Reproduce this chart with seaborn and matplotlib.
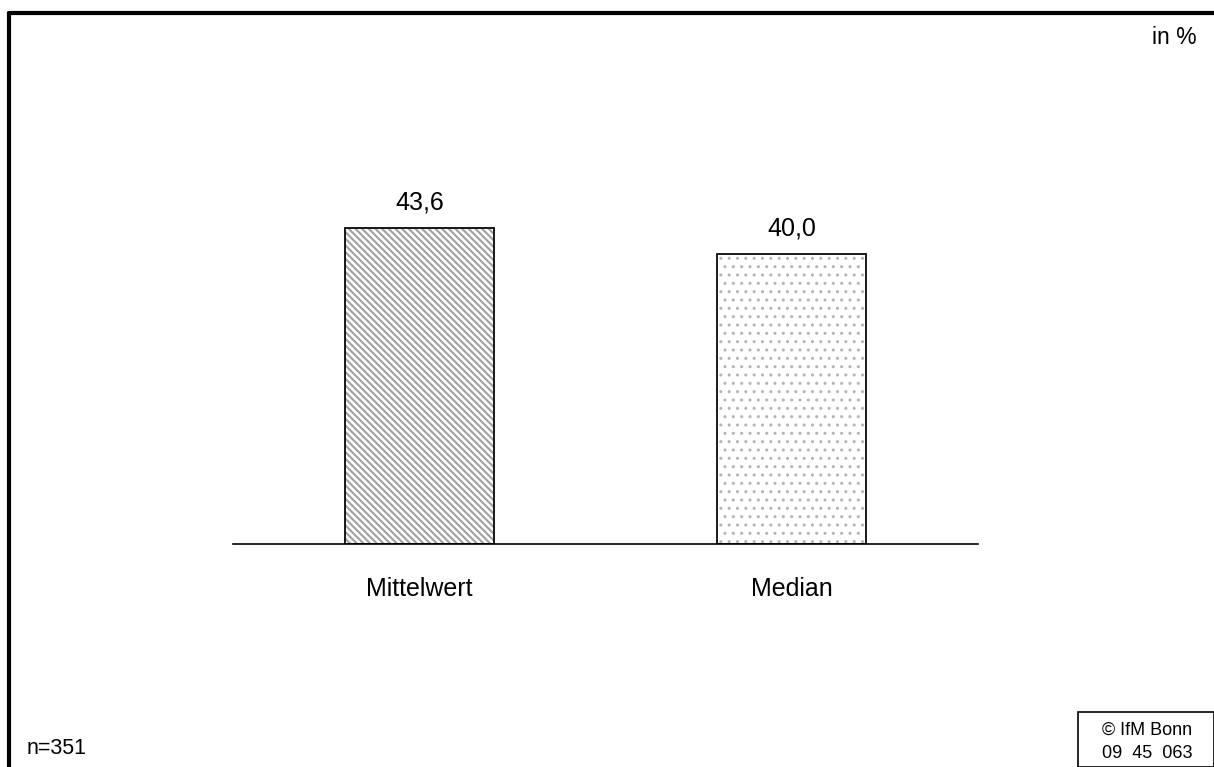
import matplotlib
matplotlib.use("Agg")
import matplotlib.pyplot as plt
import seaborn as sns
import pandas as pd
from matplotlib.patches import Rectangle
from matplotlib.lines import Line2D

categories = ["Mittelwert", "Median"]
values = [43.6, 40.0]
value_labels = ["43,6", "40,0"]

sns.set_theme(style="white")
plt.rcParams['font.family'] = ['Liberation Sans', 'DejaVu Sans']
plt.rcParams['text.color'] = 'black'
plt.rcParams['xtick.color'] = 'black'
plt.rcParams['hatch.linewidth'] = 1.5

fig = plt.figure(figsize=(12.14, 7.67), dpi=100)
ax = fig.add_axes([233/1214, 1 - 544/767, 745/1214, (544 - 109)/767])

df = pd.DataFrame({"cat": categories, "val": values})
sns.barplot(data=df, x="cat", y="val", ax=ax, width=0.40, color="white",
            edgecolor="black", linewidth=1.2)

hatches = ["\\\\\\\\\\", ".."]
hatch_colors = ["#a0a0a0", "#b4b4b4"]
hatch_lws = [1.5, 1.0]
for patch, h, hc, hlw in zip(list(ax.patches), hatches, hatch_colors, hatch_lws):
    patch.set_hatch(h)
    patch.set_edgecolor(hc)
    patch.set_facecolor("white")
    if hasattr(patch, "set_hatch_linewidth"):
        patch.set_hatch_linewidth(hlw)
    x, y = patch.get_x(), patch.get_y()
    w, hgt = patch.get_width(), patch.get_height()
    ax.add_patch(Rectangle((x, y), w, hgt, fill=False, edgecolor="black",
                           linewidth=1.2, zorder=5))

for i, (v, lab) in enumerate(zip(values, value_labels)):
    ax.text(i, v + 1.9, lab, ha="center", va="bottom", fontsize=18, color="black")

ax.set_xlim(-0.5, 1.5)
ax.set_ylim(0, 60)
ax.set_xlabel("")
ax.set_ylabel("")
ax.set_yticks([])
ax.tick_params(axis="x", length=0, pad=24, labelsize=18, labelcolor="black")
for s in ["top", "right", "left"]:
    ax.spines[s].set_visible(False)
ax.spines["bottom"].set_color("black")
ax.spines["bottom"].set_linewidth(1.2)

# frame lines (top and left)
fig.add_artist(Line2D([9/1214, 1], [1 - 13/767, 1 - 13/767], color="black",
                      linewidth=3, transform=fig.transFigure))
fig.add_artist(Line2D([9/1214, 9/1214], [0, 1 - 13/767], color="black",
                      linewidth=3, transform=fig.transFigure))

fig.text(1197/1214, 1 - 38/767, "in %", ha="right", va="center", fontsize=16.5)
fig.text(27/1214, 1 - 749/767, "n=351", ha="left", va="center", fontsize=15.5)

# copyright box
fig.add_artist(Rectangle((1078/1214, 0), (1214 - 1078)/1214, (767 - 712)/767, fill=False,
                         edgecolor="black", linewidth=1.2, transform=fig.transFigure))
fig.text(1147/1214, 1 - 730/767, "© IfM Bonn", ha="center", va="center", fontsize=13)
fig.text(1147/1214, 1 - 753/767, "09  45  063", ha="center", va="center", fontsize=13)

fig.savefig("out.png", dpi=100, facecolor="white")
